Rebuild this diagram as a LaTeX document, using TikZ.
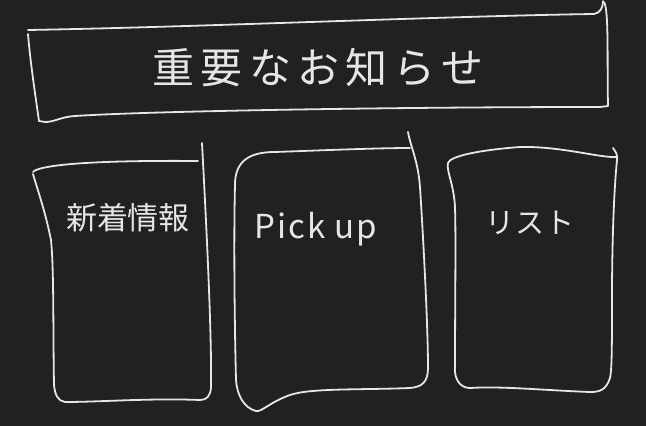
\documentclass[tikz,border=0pt]{standalone}
\usepackage{fontspec}
\newfontfamily\jptitle[LetterSpace=15]{Noto Sans CJK JP}
\newfontfamily\jpbox[LetterSpace=0]{Noto Sans CJK JP}
\newfontfamily\jplist[LetterSpace=3]{Noto Sans CJK JP}
\newfontfamily\jplat[LetterSpace=6]{Noto Sans CJK JP}
\definecolor{bg}{HTML}{212121}
\definecolor{ink}{HTML}{E6E6E6}
\begin{document}
\begin{tikzpicture}[x=1pt,y=-1pt,
  sketch/.style={draw=ink,line width=1.8pt,line cap=round,line join=round},
  txt/.style={text=ink,inner sep=0pt}]
\fill[bg] (0,0) rectangle (646,426);
\useasboundingbox (0,0) rectangle (646,426);
% banner
\draw[sketch] (28,30) .. controls (200,27) and (450,16) .. (594,14) .. controls (600,13) and (603,8) .. (603,1);
\draw[sketch] (604,2) .. controls (609,10) and (607,60) .. (608,106) -- (600,107) .. controls (400,107) and (150,111) .. (75,116) .. controls (60,117) and (55,122) .. (45,122) -- (39,121) .. controls (36,100) and (30,60) .. (28,34);
\node[txt,font=\jptitle\fontsize{42}{42}\selectfont] (title) at (318,68) {重要なお知らせ};
% box 1
\draw[sketch] (33,172) .. controls (38,166) and (80,160) .. (198,161);
\draw[sketch] (202,143) .. controls (205,200) and (212,330) .. (211,388) .. controls (210,396) and (207,400) .. (200,400) .. controls (150,398) and (100,402) .. (65,402) .. controls (58,401) and (55,395) .. (54,385) .. controls (53,330) and (54,270) .. (51,240) .. controls (45,210) and (36,185) .. (33,174);
\node[txt,font=\jpbox\fontsize{31}{31}\selectfont] (news) at (128,218) {新着情報};
% box 2
\draw[sketch] (235,185) .. controls (235,162) and (248,152) .. (275,152) .. controls (330,150) and (380,148) .. (410,148);
\draw[sketch] (408,132) .. controls (410,145) and (418,160) .. (420,187) .. controls (424,250) and (428,330) .. (428,368) .. controls (428,382) and (422,387) .. (410,388) .. controls (360,390) and (310,388) .. (290,395) .. controls (270,402) and (262,412) .. (256,411) .. controls (244,408) and (237,395) .. (236,380) .. controls (234,300) and (234,220) .. (235,185);
\node[txt,font=\jplat\fontsize{33}{33}\selectfont,anchor=base] (pick) at (316,238) {Pick up};
% box 3
\draw[sketch] (613,148) .. controls (616,152) and (618,156) .. (617,160) .. controls (614,190) and (612,240) .. (612,300) .. controls (612,340) and (612,370) .. (610,378) .. controls (606,390) and (600,392) .. (590,392) .. controls (540,390) and (500,386) .. (470,388) .. controls (462,388) and (456,382) .. (455,372) .. controls (455,300) and (456,240) .. (455,207) .. controls (454,185) and (446,170) .. (448,163) .. controls (450,156) and (480,150) .. (520,147) .. controls (560,146) and (600,158) .. (616,157);
\node[txt,font=\jplist\fontsize{29}{29}\selectfont] (list) at (530,223) {リスト};
\end{tikzpicture}
\end{document}
